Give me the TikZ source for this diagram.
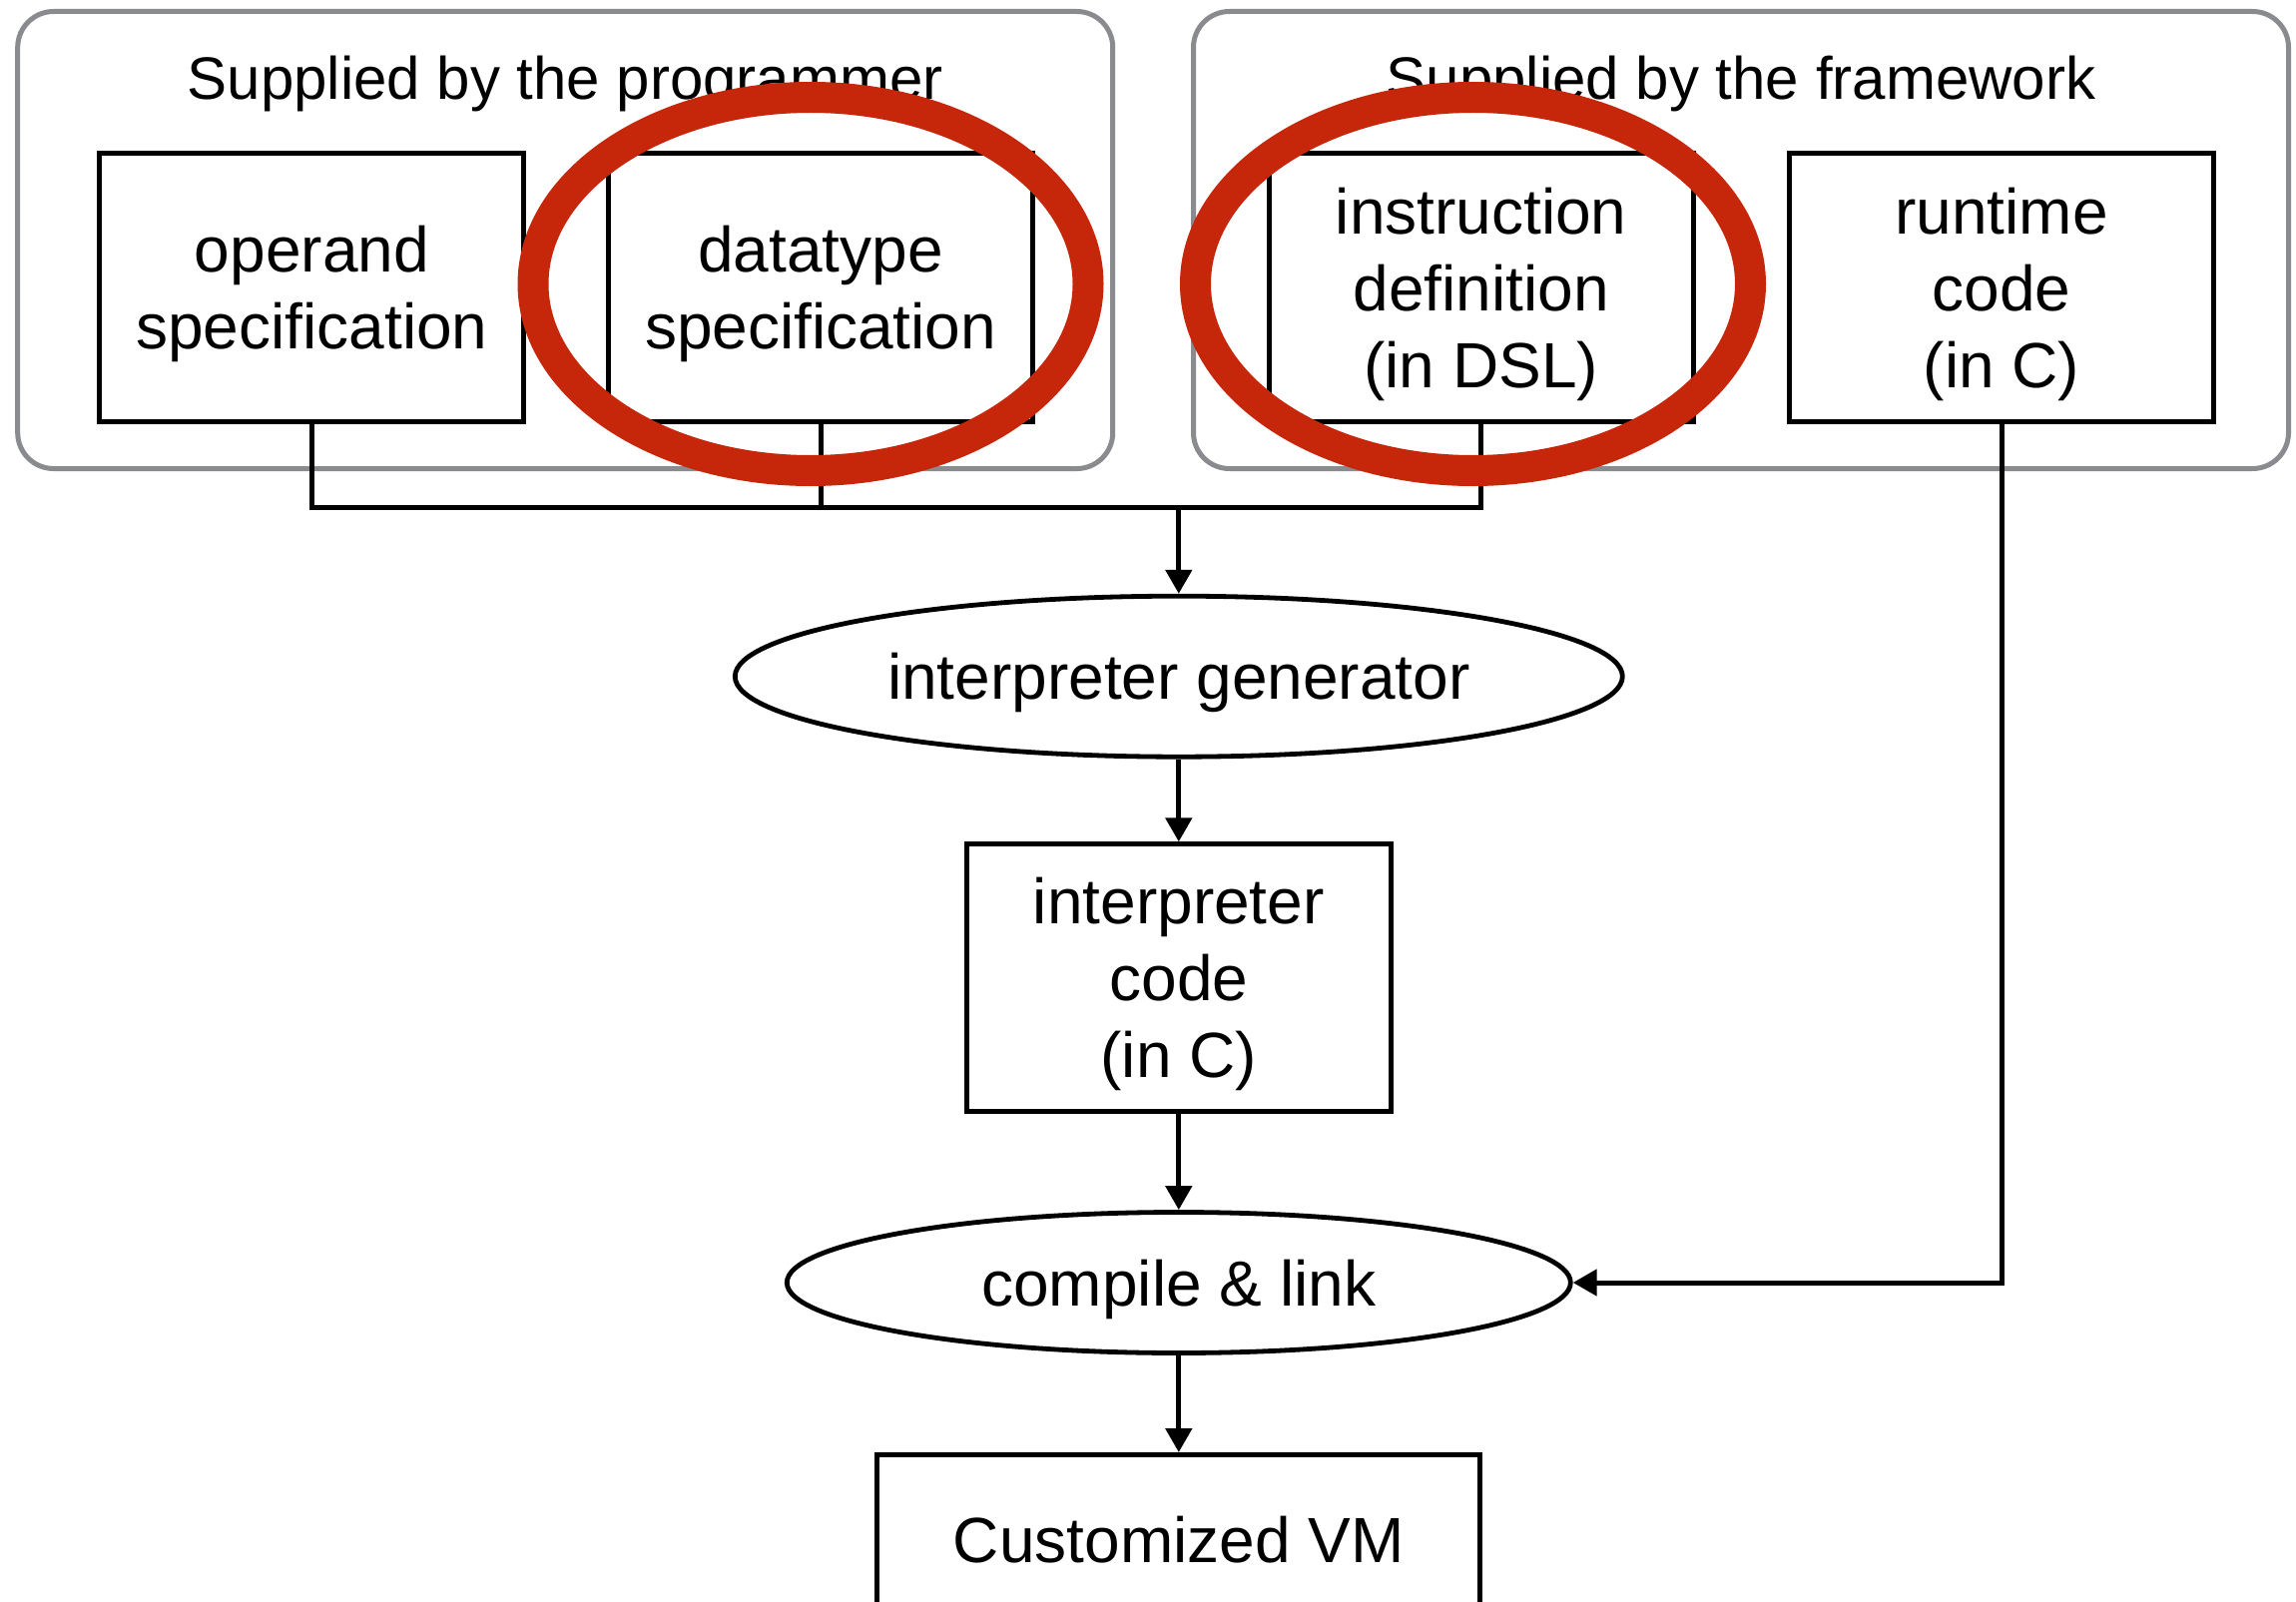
\documentclass[tikz,border=0pt]{standalone}
\usepackage{fontspec}
\setmainfont{Liberation Sans}
\usetikzlibrary{shapes.geometric,arrows.meta}
\definecolor{framegray}{RGB}{137,139,143}
\definecolor{ringred}{RGB}{198,38,10}
\begin{document}
\begin{tikzpicture}[x=1pt,y=-1pt,
  every node/.style={font=\fontsize{64}{77}\selectfont, text depth=0pt},
  title/.style={font=\fontsize{60}{72}\selectfont, anchor=base},
  grpbox/.style={draw=framegray, line width=5pt, rounded corners=36pt,
    minimum width=1097pt, minimum height=458pt, inner sep=0pt},
  srcbox/.style={draw, line width=5pt, minimum width=425pt, minimum height=268pt,
    align=center, inner sep=0pt},
  process/.style={draw, ellipse, line width=4.8pt, inner sep=0pt},
  conn/.style={line width=5pt},
  arr/.style={line width=5pt, -{Triangle[length=24pt,width=26pt]}},
  ring/.style={draw=ringred, ellipse, line width=31pt,
    minimum width=556pt, minimum height=374pt, inner sep=0pt},
]
\useasboundingbox (0,0) rectangle (2300,1605);
\clip (0,0) rectangle (2300,1605);

% the two groups of inputs
\node[grpbox] (gprog) at (566.2,240.5) {};
\node[grpbox] (gfw) at (1744,240.5) {};
\node[title] (tprog) at (566.2,100) {Supplied by the programmer};
\node[title] (tfw) at (1744,100) {Supplied by the framework};

% inputs
\node[srcbox] (op) at (312.4,288) {operand\\specification};
\node[srcbox] (dt) at (822.1,288) {datatype\\specification};
\node[srcbox] (ins) at (1483.7,288) {instruction\\definition\\(in DSL)};
\node[srcbox] (rt) at (2005.1,288) {runtime\\code\\(in C)};

% build pipeline
\node[process, minimum width=889pt, minimum height=161pt] (gen) at (1180.8,677.7) {interpreter generator};
\node[srcbox] (icode) at (1180.8,979.8) {interpreter\\code\\(in C)};
\node[process, minimum width=785pt, minimum height=141pt] (link) at (1180.8,1285) {compile \& link};
\node[srcbox, minimum width=604pt, minimum height=170pt, anchor=north] (vm) at (1180.8,1455) {Customized VM};

% connectors
\coordinate (bus) at (0,508.5);
\draw[conn] (op.south) -- (op.south |- bus) -- (ins.south |- bus) -- (ins.south);
\draw[conn] (dt.south) -- (dt.south |- bus);
\draw[arr] (gen.north |- bus) -- (gen.north);
\draw[arr] (gen.south) -- (icode.north);
\draw[arr] (icode.south) -- (link.north);
\draw[arr] (link.south) -- (vm.north);
\draw[arr] (rt.south) |- (link.east);

% highlight rings
\node[ring] (ring1) at (812,284.5) {};
\node[ring] (ring2) at (1475.5,284.5) {};
\end{tikzpicture}
\end{document}
